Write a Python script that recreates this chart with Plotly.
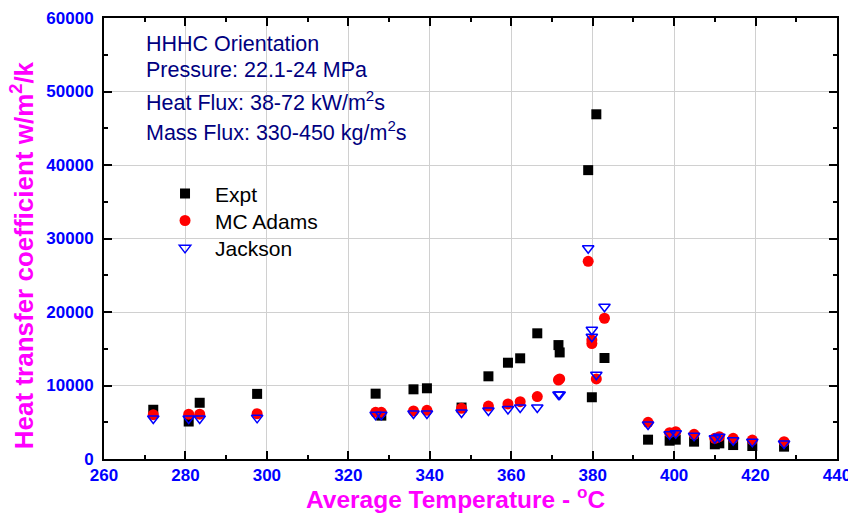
import plotly.graph_objects as go

# ---- data ----
expt_x = [272.1, 280.8, 283.5, 297.6, 326.7, 328.1, 336.0, 339.3, 347.8,
          354.4, 359.2, 362.2, 366.4, 371.6, 371.9, 378.9, 379.8, 380.9, 382.9,
          393.6, 398.9, 400.4, 404.9, 410.0, 411.1, 414.5, 419.2, 427.0]
expt_y = [6700, 5100, 7650, 8860, 8890, 5900, 9480, 9620, 7000,
          11250, 13100, 13700, 17100, 15500, 14500, 39300, 8400, 46900, 13740,
          2630, 2490, 2630, 2360, 2000, 2130, 1900, 1770, 1680]

mc_x = [272.1, 280.8, 283.5, 297.6, 326.7, 328.1, 336.0, 339.3, 347.8,
        354.4, 359.2, 362.2, 366.4, 371.6, 371.9, 378.9, 379.8, 379.8, 380.9, 382.9,
        393.6, 398.9, 400.4, 404.9, 410.0, 411.1, 414.5, 419.2, 427.0]
mc_y = [6030, 6100, 6100, 6160, 6350, 6350, 6530, 6620, 6900,
        7200, 7500, 7800, 8500, 10750, 10900, 26900, 16200, 15700, 10900, 19150,
        4990, 3580, 3720, 3360, 2810, 3030, 2810, 2580, 2350]

jk_x = [272.1, 280.8, 283.5, 297.6, 326.7, 328.1, 336.0, 339.3, 347.8,
        354.4, 359.2, 362.2, 366.4, 371.6, 371.9, 378.9, 379.8, 379.8, 380.9, 382.9,
        393.6, 398.9, 400.4, 404.9, 410.0, 411.1, 414.5, 419.2, 427.0]
jk_y = [5510, 5510, 5510, 5600, 6010, 6010, 6190, 6190, 6330,
        6600, 6800, 7000, 7000, 8780, 8780, 28680, 17580, 16630, 11460, 20710,
        4700, 3370, 3510, 3150, 2830, 3020, 2560, 2340, 2110]

x_range = [260, 440]
y_range = [0, 60000]

info_lines = ["HHHC Orientation",
              "Pressure: 22.1-24 MPa",
              "Heat Flux: 38-72 kW/m<sup>2</sup>s",
              "Mass Flux: 330-450 kg/m<sup>2</sup>s"]

FONT = "Liberation Sans, Arial, sans-serif"

fig = go.Figure()
fig.add_trace(go.Scatter(x=expt_x, y=expt_y, mode="markers", name="Expt",
                         legend="legend",
                         marker=dict(symbol="square", size=10, color="black",
                                     line=dict(width=0))))
fig.add_trace(go.Scatter(x=mc_x, y=mc_y, mode="markers", name="MC Adams",
                         legend="legend2",
                         marker=dict(symbol="circle", size=11, color="#ff0000",
                                     line=dict(width=0))))
fig.add_trace(go.Scatter(x=jk_x, y=jk_y, mode="markers", name="Jackson",
                         legend="legend3",
                         marker=dict(symbol="triangle-down-open", size=10,
                                     color="#0000ff", line=dict(width=1.5, color="#0000ff"))))

axis_common = dict(
    showline=True, linewidth=2, linecolor="black", mirror="ticks",
    ticks="inside", ticklen=8, tickwidth=1.5, tickcolor="black",
    showgrid=True, gridcolor="#d0d0d0", gridwidth=1, zeroline=False,
    tickfont=dict(family=FONT, size=17, color="#0000ff", weight="bold"),
    tickformat="d", automargin=False,
)

fig.update_xaxes(range=x_range, dtick=20, tick0=260,
                 minor=dict(ticks="inside", ticklen=4, tickwidth=1.5, tickcolor="black",
                            dtick=10, showgrid=False),
                 **axis_common)
fig.update_yaxes(range=y_range, dtick=10000, tick0=0, ticklabelstandoff=5,
                 minor=dict(ticks="inside", ticklen=4, tickwidth=1.5, tickcolor="black",
                            dtick=5000, showgrid=False),
                 **axis_common)

annos = []
info_y = [0.941, 0.882, 0.812, 0.744]
for txt, yy in zip(info_lines, info_y):
    annos.append(dict(text=txt, x=0.0546, y=yy, xref="paper", yref="paper",
                      xanchor="left", yanchor="middle", showarrow=False,
                      font=dict(family=FONT, size=21.5, color="#000080")))
annos.append(dict(text="Average Temperature - <sup>o</sup>C", x=0.479, y=-0.088,
                  xref="paper", yref="paper", xanchor="center", yanchor="middle",
                  showarrow=False,
                  font=dict(family=FONT, size=24.5, color="#ff00ff", weight="bold")))
annos.append(dict(text="Heat transfer coefficient w/m<sup>2</sup>/k", x=-0.112, y=0.462,
                  xref="paper", yref="paper", xanchor="center", yanchor="middle",
                  textangle=-90, showarrow=False,
                  font=dict(family=FONT, size=26, color="#ff00ff", weight="bold")))

leg_common = dict(x=0.0696, xanchor="left", yanchor="middle",
                  bgcolor="rgba(0,0,0,0)", borderwidth=0, itemwidth=50,
                  font=dict(family=FONT, size=21, color="black"))

fig.update_layout(
    width=848, height=507,
    margin=dict(l=96, r=19, t=10, b=56, autoexpand=False),
    paper_bgcolor="white", plot_bgcolor="white",
    font=dict(family=FONT),
    annotations=annos,
    showlegend=True,
    legend=dict(y=0.601, **leg_common),
    legend2=dict(y=0.540, **leg_common),
    legend3=dict(y=0.478, **leg_common),
)

fig.write_html("out.html")
